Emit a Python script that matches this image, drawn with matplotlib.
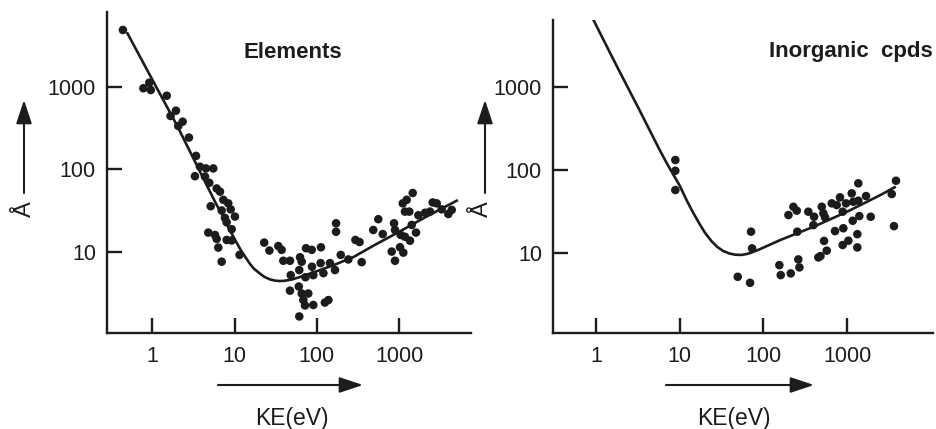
import numpy as np
import matplotlib
matplotlib.use('Agg')
import matplotlib.pyplot as plt
from matplotlib.patches import FancyArrowPatch

# --- DANE: pierwiastki (Elements) ---
elem_ke = [0.44, 0.78, 0.92, 0.96, 1.50, 1.94, 1.67, 2.34, 2.07, 2.79,
           3.40, 3.80, 3.30, 4.49, 5.51, 4.37, 4.93, 6.06, 6.65, 7.30,
           8.38, 5.13, 6.97, 8.97, 10.1, 7.64, 8.02, 9.22, 4.79, 5.78,
           6.06, 8.02, 9.22, 6.34, 11.5, 6.97, 22.9, 26.5, 34, 37.3,
           39.1, 47.1, 62.4, 65.4, 73.8, 86.5, 112, 171, 171, 48.1,
           61.1, 47.1, 60.3, 72.6, 90.4, 87.2, 111, 120, 65.4, 78.6,
           68.4, 71.7, 90.4, 125, 138, 61.1, 144, 166, 195, 241,
           294, 330, 350, 484, 557, 631, 865, 889, 1043, 811,
           889, 1023, 1122, 1175, 1352, 1600, 1104, 1233, 1459, 1175,
           1327, 1707, 2060, 2367, 2553, 2856, 3283, 3951, 4345, 1419]
elem_lam = [4840, 957, 1117, 912, 778, 513, 443, 378, 335, 243,
            146, 108, 83, 103, 103, 82, 69, 59, 54, 43,
            39, 36, 32, 33, 27, 26, 23, 19, 17.3, 16.2,
            14.5, 14.1, 13.9, 11.4, 9.3, 7.7, 13.1, 10.5, 11.9, 10.7,
            7.9, 7.9, 8.7, 7.7, 11.2, 10.7, 11.5, 22.4, 17.7, 5.3,
            6.1, 3.44, 3.86, 5.0, 5.3, 6.7, 7.4, 5.6, 3.18, 3.18,
            2.65, 2.28, 2.31, 2.47, 2.65, 1.68, 7.4, 6.1, 9.3, 8.2,
            14.1, 13.3, 7.6, 18.6, 25.1, 16.6, 22.4, 18.6, 16.2, 10.2,
            7.9, 11.5, 9.9, 15.4, 13.8, 17.3, 39, 43, 52, 31,
            31, 28, 30, 31, 40, 39, 33, 29, 32.5, 21.4]

# krzywa dopasowania
elem_fit_ke = [0.5, 1, 2, 4, 6, 7, 8, 9, 10, 11, 12, 13.5, 15, 17, 20, 23, 27,
               31, 35, 40, 50, 65, 90, 160, 280, 500, 1000, 2000, 5000]
elem_fit_lam = [4400, 1220, 340, 85, 38, 29, 22, 17.6, 14.5, 12.2, 10.5, 8.8, 7.5,
                6.4, 5.6, 5.05, 4.7, 4.55, 4.5, 4.52, 4.7, 5.1, 5.7, 7.0, 8.8,
                12.2, 17.7, 26, 42]

# --- DANE: zwiazki nieorganiczne (Inorganic cpds) ---
inorg_ke = [8.86, 8.86, 8.86, 71.1, 73.1, 49.3, 69.2, 155, 161, 212,
            261, 269, 199, 228, 250, 254, 344, 403, 395, 498,
            520, 545, 453, 480, 571, 530, 655, 751, 822, 885,
            970, 1135, 1186, 1361, 1361, 1682, 717, 901, 1167, 1400,
            1914, 885, 1035, 1324, 1324, 3839, 3413, 3631]
inorg_lam = [132, 98, 57.4, 18.1, 11.4, 5.18, 4.38, 7.16, 5.43, 5.69,
             8.39, 6.72, 28.7, 36.1, 32.4, 18.1, 31.5, 27.4, 21.7, 36.1,
             30.1, 26.9, 8.87, 9.2, 10.7, 14.0, 39.7, 37.9, 46.9, 31.5,
             39.7, 52.4, 41.5, 69.2, 42.7, 48.6, 18.4, 19.9, 24.5, 27.9,
             27.4, 12.5, 14.1, 16.9, 11.7, 74.3, 51.4, 21.1]

inorg_fit_ke = [0.94, 1.7, 3.3, 5.7, 7, 8.5, 9.9, 12, 14, 17, 20, 24, 28, 33, 39,
                46, 55, 65, 75, 90, 160, 400, 1000, 2500, 3700]
inorg_fit_lam = [6300, 1930, 528, 178, 121, 86, 66, 44, 32.5, 23, 17.6, 13.9, 11.9,
                 10.6, 9.9, 9.55, 9.5, 9.8, 10.3, 11.1, 14.4, 20.8, 31.5, 50, 62]

x_ticks = [1, 10, 100, 1000]
y_ticks = [10, 100, 1000]

ink = '#1c1c1c'
W, H = 936, 429

fig = plt.figure(figsize=(W / 100, H / 100), dpi=100)

def px(x, y):
    # piksele obrazka -> ulamki figury
    return x / W, 1 - y / H

def setup_axes(ax, xlim, ylim):
    ax.set_xscale('log')
    ax.set_yscale('log')
    ax.set_xlim(*xlim)
    ax.set_ylim(*ylim)
    ax.spines['top'].set_visible(False)
    ax.spines['right'].set_visible(False)
    for s in ('left', 'bottom'):
        ax.spines[s].set_linewidth(1.7)
        ax.spines[s].set_color(ink)
    ax.minorticks_off()
    ax.set_xticks(x_ticks)
    ax.set_xticklabels([str(t) for t in x_ticks])
    ax.set_yticks(y_ticks)
    ax.set_yticklabels([str(t) for t in y_ticks])
    ax.tick_params(axis='both', direction='in', length=11, width=1.7, color=ink,
                   labelsize=15.5, labelcolor=ink)
    ax.tick_params(axis='x', pad=9)
    ax.tick_params(axis='y', pad=8)
    for lab in ax.get_xticklabels() + ax.get_yticklabels():
        lab.set_fontfamily('Liberation Sans')
    ax.patch.set_alpha(0)

# lewy panel
ax1 = fig.add_axes([107 / W, 1 - 333 / H, 364 / W, 321 / H])
setup_axes(ax1, (0.282, 7450), (1.06, 7980))
ax1.plot(elem_fit_ke, elem_fit_lam, color=ink, lw=1.9, solid_joinstyle='round')
ax1.scatter(elem_ke, elem_lam, s=38, color=ink, edgecolors='none', zorder=3, clip_on=False)

# prawy panel
ax2 = fig.add_axes([553 / W, 1 - 333 / H, 380 / W, 313 / H])
setup_axes(ax2, (0.306, 10620), (1.09, 6410))
ax2.plot(inorg_fit_ke, inorg_fit_lam, color=ink, lw=1.9, solid_joinstyle='round')
ax2.scatter(inorg_ke, inorg_lam, s=38, color=ink, edgecolors='none', zorder=3, clip_on=False)

# tytuly paneli
fig.text(*px(293, 52), 'Elements', ha='center', va='center', fontsize=16,
         fontweight='bold', family='Liberation Sans', color=ink)
fig.text(*px(933, 52), 'Inorganic  cpds', ha='right', va='center', fontsize=16,
         fontweight='bold', family='Liberation Sans', color=ink)

# strzalki i opisy osi
arrow = dict(arrowstyle='-|>,head_length=0.9,head_width=0.3', color=ink, lw=1.5,
             shrinkA=0, shrinkB=0)
for ax_x, lab_x in [(24, 24.5), (485, 482)]:
    fig.add_artist(FancyArrowPatch(px(ax_x, 193), px(ax_x, 100),
                                   transform=fig.transFigure, mutation_scale=16, **arrow))
    fig.text(*px(lab_x, 209), 'Å', rotation=90, ha='center', va='center',
             fontsize=17, family='Liberation Sans', color=ink)

for x0, x1, lab_x in [(218, 363, 291.5), (666, 814, 734)]:
    fig.add_artist(FancyArrowPatch(px(x0, 385), px(x1, 385),
                                   transform=fig.transFigure, mutation_scale=16, **arrow))
    fig.text(*px(lab_x, 418), 'KE(eV)', ha='center', va='center',
             fontsize=16.5, family='Liberation Sans', color=ink)

fig.savefig('out.png', dpi=100)
